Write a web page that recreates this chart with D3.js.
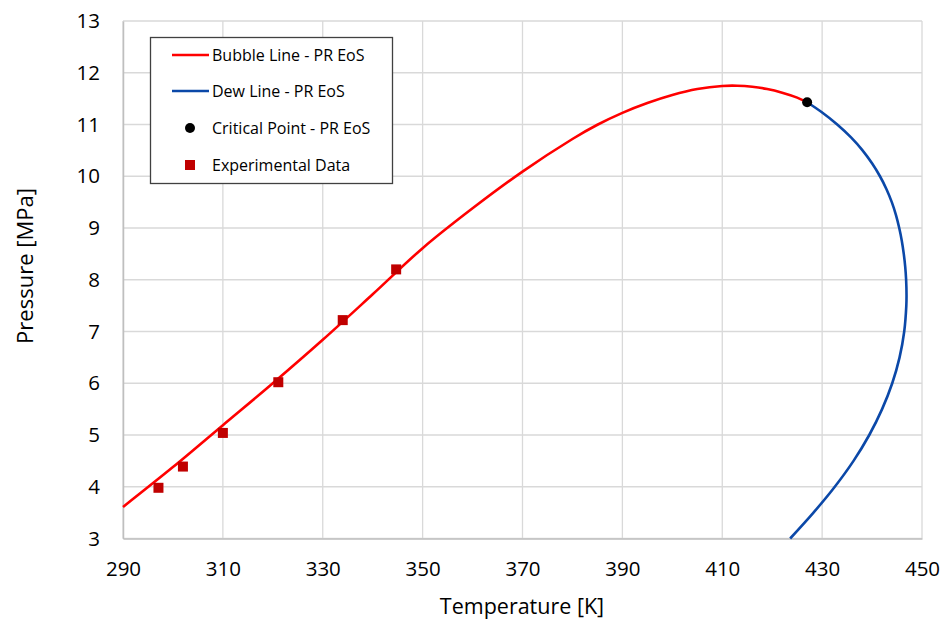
<!DOCTYPE html>
<html>
<head>
<meta charset="utf-8">
<script src="https://cdn.jsdelivr.net/npm/d3@7"></script>
<style>
  html, body { margin: 0; padding: 0; background: #fff; }
  svg text { font-family: "Open Sans", Lato, sans-serif; fill: #000; }
</style>
</head>
<body>
<svg id="chart" width="943" height="621"></svg>
<script>
// Bubble line (PR EoS): temperature [K] and pressure [MPa]
const bubbleT = [290, 300, 310, 320, 330, 340, 350, 360, 370, 380, 385, 390, 395, 400, 405, 410, 413, 416, 419, 422, 425, 427];
const bubbleP = [3.61, 4.38, 5.19, 6.00, 6.84, 7.72, 8.61, 9.38, 10.09, 10.72, 10.995, 11.225, 11.415, 11.57, 11.685, 11.745, 11.75, 11.73, 11.686, 11.615, 11.52, 11.43];

// Dew line (PR EoS), from the critical point down to the lower axis
const dewT = [427.0, 429.74, 433.02, 435.79, 438.09, 439.99, 441.58, 442.89, 443.95, 444.79, 445.44, 445.96, 446.35, 446.64, 446.82, 446.9,
              446.86, 446.44, 445.51, 444.04, 442.01, 439.44, 436.29, 432.54, 428.27, 423.6];
const dewP = [11.43, 11.25, 11.0, 10.75, 10.5, 10.25, 10.0, 9.75, 9.5, 9.25, 9.0, 8.75, 8.5, 8.25, 8.0, 7.7,
              7.5, 7.0, 6.5, 6.0, 5.5, 5.0, 4.5, 4.0, 3.5, 3.0];

// Critical point (PR EoS)
const criticalT = [427.0];
const criticalP = [11.43];

// Experimental data
const expT = [297.1, 302.0, 310.0, 321.1, 334.0, 344.7];
const expP = [3.98, 4.39, 5.04, 6.02, 7.22, 8.20];

// Axis ticks
const xTicks = [290, 310, 330, 350, 370, 390, 410, 430, 450];
const yTicks = [3, 4, 5, 6, 7, 8, 9, 10, 11, 12, 13];

const legendLabels = ["Bubble Line - PR EoS", "Dew Line - PR EoS", "Critical Point - PR EoS", "Experimental Data"];

const colors = { bubble: "#FF0000", dew: "#0B48A8", critical: "#000000", exp: "#C00000", grid: "#D9D9D9" };

const svg = d3.select("#chart");
const x = d3.scaleLinear().domain([290, 450]).range([123, 922]);
const y = d3.scaleLinear().domain([3, 13]).range([538.5, 21]);

// Gridlines
const grid = svg.append("g");
grid.selectAll("line.v").data(xTicks).join("line")
  .attr("x1", d => x(d)).attr("x2", d => x(d))
  .attr("y1", y(13)).attr("y2", y(3))
  .attr("stroke", colors.grid).attr("stroke-width", 1.3);
grid.selectAll("line.h").data(yTicks).join("line")
  .attr("x1", x(290)).attr("x2", x(450))
  .attr("y1", d => y(d)).attr("y2", d => y(d))
  .attr("stroke", colors.grid).attr("stroke-width", 1.3);

// Axes (labels only; lines come from the grid)
const xAxis = svg.append("g").attr("transform", `translate(0,${y(3)})`)
  .call(d3.axisBottom(x).tickValues(xTicks).tickSize(0).tickPadding(23).tickFormat(d3.format("d")));
xAxis.select(".domain").attr("stroke", "#BFBFBF").attr("stroke-width", 1.5);
xAxis.selectAll("text").style("font-size", "20.5px");

const yAxis = svg.append("g").attr("transform", `translate(${x(290)},0)`)
  .call(d3.axisLeft(y).tickValues(yTicks).tickSize(0).tickPadding(23).tickFormat(d3.format("d")));
yAxis.select(".domain").attr("stroke", "#BFBFBF").attr("stroke-width", 1.5);
yAxis.selectAll("text").style("font-size", "20.5px");

// Axis titles
svg.append("text").attr("x", 522).attr("y", 614).attr("text-anchor", "middle")
  .style("font-size", "21.5px").text("Temperature [K]");
svg.append("text").attr("transform", `translate(33,266) rotate(-90)`).attr("text-anchor", "middle")
  .style("font-size", "22px").text("Pressure [MPa]");

const line = d3.line().x(d => x(d[0])).y(d => y(d[1])).curve(d3.curveCatmullRom.alpha(0.5));

// Bubble line
svg.append("path").datum(d3.zip(bubbleT, bubbleP))
  .attr("d", line).attr("fill", "none").attr("stroke", colors.bubble).attr("stroke-width", 2.6);

// Dew line
svg.append("path").datum(d3.zip(dewT, dewP))
  .attr("d", line).attr("fill", "none").attr("stroke", colors.dew).attr("stroke-width", 2.6);

// Experimental points
const sq = 10;
svg.append("g").selectAll("rect").data(d3.zip(expT, expP)).join("rect")
  .attr("x", d => x(d[0]) - sq / 2).attr("y", d => y(d[1]) - sq / 2)
  .attr("width", sq).attr("height", sq).attr("fill", colors.exp);

// Critical point
svg.append("g").selectAll("circle").data(d3.zip(criticalT, criticalP)).join("circle")
  .attr("cx", d => x(d[0])).attr("cy", d => y(d[1])).attr("r", 5).attr("fill", colors.critical);

// Legend
const lg = svg.append("g");
lg.append("rect").attr("x", 150.5).attr("y", 37.5).attr("width", 242).attr("height", 146)
  .attr("fill", "#fff").attr("stroke", "#404040").attr("stroke-width", 1.3);
const rowY = [55, 91, 128, 165];
legendLabels.forEach((label, i) => {
  const cy = rowY[i];
  if (i === 0 || i === 1) {
    lg.append("line").attr("x1", 172).attr("x2", 209).attr("y1", cy).attr("y2", cy)
      .attr("stroke", i === 0 ? colors.bubble : colors.dew).attr("stroke-width", 2.6);
  } else if (i === 2) {
    lg.append("circle").attr("cx", 190).attr("cy", cy).attr("r", 5).attr("fill", colors.critical);
  } else {
    lg.append("rect").attr("x", 185).attr("y", cy - 5).attr("width", 10).attr("height", 10).attr("fill", colors.exp);
  }
  lg.append("text").attr("x", 212).attr("y", cy).attr("dy", "0.35em")
    .style("font-size", "16px").text(label);
});
</script>
</body>
</html>
